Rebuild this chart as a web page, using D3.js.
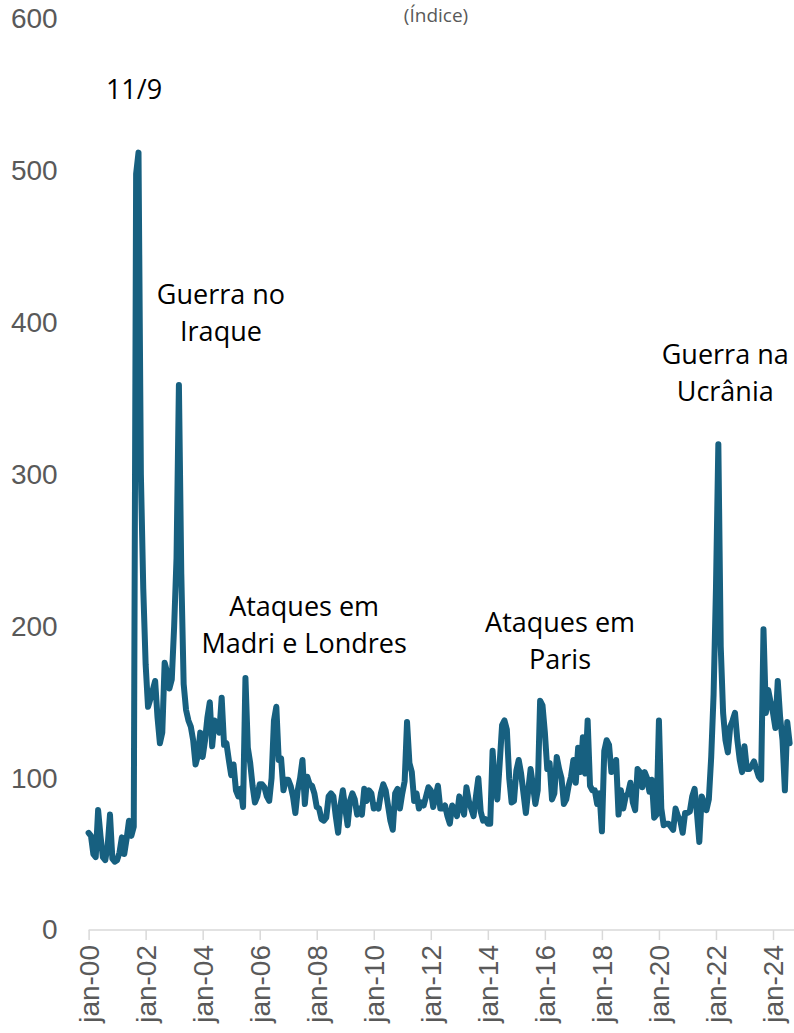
<!DOCTYPE html>
<html>
<head>
<meta charset="utf-8">
<script src="https://cdn.jsdelivr.net/npm/d3@7"></script>
<style>
  body { margin: 0; background: #fff; }
  svg { display: block; }
</style>
</head>
<body>
<svg width="794" height="1033"></svg>
<script>
// monthly index, jan-2000 onwards
var startYear = 2000;
var gpr = [
  // 2000
  64, 62, 50, 48, 79, 62, 48, 46, 55, 76, 47, 45,
  // 2001
  46, 51, 61, 50, 60, 72, 62, 68, 498, 512, 300, 225,
  // 2002
  175, 147, 152, 158, 164, 140, 123, 130, 176, 170, 159, 165,
  // 2003
  200, 245, 359, 235, 162, 145, 138, 134, 125, 109, 115, 130,
  // 2004
  114, 125, 140, 150, 121, 138, 135, 130, 153, 122, 123, 112,
  // 2005
  102, 109, 92, 88, 93, 81, 166, 120, 110, 95, 84, 88,
  // 2006
  96, 96, 94, 88, 85, 100, 138, 147, 112, 113, 92, 99,
  // 2007
  99, 95, 88, 77, 92, 100, 112, 83, 101, 96, 95, 90,
  // 2008
  81, 80, 73, 72, 74, 88, 90, 88, 75, 64, 82, 92,
  // 2009
  80, 69, 85, 90, 86, 76, 80, 76, 93, 85, 92, 90,
  // 2010
  80, 82, 80, 90, 96, 92, 82, 72, 66, 90, 93, 80,
  // 2011
  90, 98, 137, 110, 104, 85, 90, 80, 84, 82, 88, 94,
  // 2012
  92, 81, 88, 95, 80, 80, 82, 75, 70, 82, 80, 75,
  // 2013
  88, 82, 76, 94, 85, 80, 75, 88, 100, 78, 72, 73,
  // 2014
  70, 70, 118, 95, 86, 110, 135, 138, 132, 100, 84, 85,
  // 2015
  105, 112, 103, 90, 77, 92, 106, 95, 83, 92, 151, 148,
  // 2016
  130, 106, 110, 86, 90, 114, 106, 100, 83, 86, 95, 101,
  // 2017
  112, 97, 120, 104, 127, 103, 138, 95, 92, 92, 83, 90,
  // 2018
  65, 118, 125, 122, 104, 106, 112, 76, 92, 80, 88, 90,
  // 2019
  97, 84, 79, 106, 104, 94, 104, 100, 91, 99, 74, 76,
  // 2020
  138, 80, 69, 70, 70, 68, 66, 80, 75, 72, 64, 77,
  // 2021
  77, 78, 88, 93, 77, 58, 88, 84, 79, 86, 114, 155,
  // 2022
  225, 320, 187, 143, 125, 117, 134, 138, 143, 125, 112, 104,
  // 2023
  121, 106, 106, 108, 111, 106, 101, 99, 198, 143, 158, 150,
  // 2024
  143, 133, 164, 140, 125, 92, 137, 123
];

var yTicks = [0, 100, 200, 300, 400, 500, 600];
var xTickMonths = [0, 24, 48, 72, 96, 120, 144, 168, 192, 216, 240, 264, 288];
var xTickLabels = ["jan-00", "jan-02", "jan-04", "jan-06", "jan-08", "jan-10", "jan-12",
                   "jan-14", "jan-16", "jan-18", "jan-20", "jan-22", "jan-24"];

// event notes, anchored in data space (month index, index value)
var noteText = [["11/9"], ["Guerra no", "Iraque"], ["Ataques em", "Madri e Londres"],
                ["Ataques em", "Paris"], ["Guerra na", "Ucrânia"]];
var noteMonth = [19.1, 55.7, 90.7, 198.4, 267.9];
var noteValue = [547, 412, 207, 196, 373];

var svg = d3.select("svg"),
    width = +svg.attr("width"),
    height = +svg.attr("height");

var x = d3.scaleLinear().domain([0, 288]).range([88.6, 773]);
var y = d3.scaleLinear().domain([0, 600]).range([930, 19]);

var axisGrey = "#595959";
var lineColor = "#176080";

// title
svg.append("text")
    .attr("x", 436)
    .attr("y", 22)
    .attr("text-anchor", "middle")
    .style("font-family", "'Open Sans', sans-serif")
    .style("font-size", "19px")
    .style("fill", axisGrey)
    .text("(Índice)");

// y axis: labels only
var yAxis = svg.append("g")
    .attr("transform", "translate(" + x(0) + ",0)")
    .call(d3.axisLeft(y).tickValues(yTicks).tickSize(0).tickPadding(31));
yAxis.select(".domain").remove();
yAxis.selectAll("text")
    .style("font-family", "'Liberation Sans', Arial, sans-serif")
    .style("font-size", "28px")
    .style("fill", axisGrey);

// x axis
var xAxis = svg.append("g")
    .attr("transform", "translate(0," + y(0) + ")")
    .call(d3.axisBottom(x)
        .tickValues(xTickMonths)
        .tickFormat(function (d, i) { return xTickLabels[i]; })
        .tickSize(10));
xAxis.select(".domain").remove();
xAxis.selectAll("line").attr("stroke", "#d9d9d9").attr("stroke-width", 1.5);
xAxis.append("line")
    .attr("x1", x(0))
    .attr("x2", width)
    .attr("stroke", "#d9d9d9")
    .attr("stroke-width", 1.5);
xAxis.selectAll("text")
    .attr("transform", "rotate(-90)")
    .attr("x", -15)
    .attr("y", 0)
    .attr("dy", "0.35em")
    .style("text-anchor", "end")
    .style("font-family", "'Liberation Sans', Arial, sans-serif")
    .style("font-size", "28px")
    .style("fill", axisGrey);

// series
var line = d3.line()
    .x(function (d, i) { return x(i); })
    .y(function (d) { return y(d); });

svg.append("path")
    .datum(gpr)
    .attr("fill", "none")
    .attr("stroke", lineColor)
    .attr("stroke-width", 6)
    .attr("stroke-linejoin", "round")
    .attr("stroke-linecap", "round")
    .attr("d", line);

// event notes
noteText.forEach(function (lines, k) {
    var t = svg.append("text")
        .attr("text-anchor", "middle")
        .style("font-family", "'Open Sans', sans-serif")
        .style("font-size", "27px")
        .style("fill", "#000");
    lines.forEach(function (s, j) {
        t.append("tspan")
            .attr("x", x(noteMonth[k]))
            .attr("y", y(noteValue[k]) + j * 37)
            .text(s);
    });
});
</script>
</body>
</html>
